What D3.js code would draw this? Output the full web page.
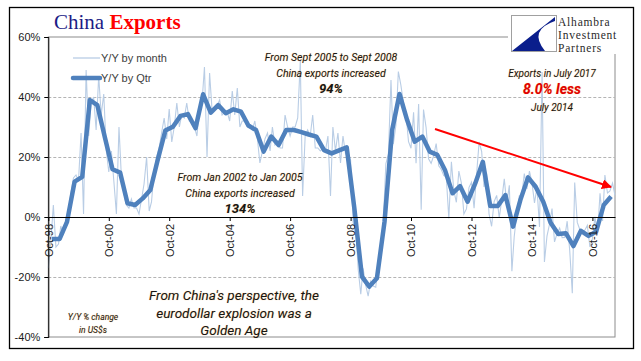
<!DOCTYPE html>
<meta charset="utf-8">
<style>
body { margin: 0; background: #fff; }
svg { font-family: 'Liberation Sans', Arial, sans-serif; }
.axis text { font-family: 'Liberation Sans Narrow', 'Liberation Sans', Arial, sans-serif; font-size: 11px; fill: #1a1a1a; }
.note { font-family: Roboto, 'Open Sans', sans-serif; font-style: italic; fill: #161616; text-anchor: middle;
        text-shadow: 0 0 1px rgba(240, 150, 40, 0.6); }
.legend text { font-size: 11px; fill: #404040; }
</style>
<svg width="641" height="361"></svg>
<script src="https://d3js.org/d3.v7.min.js"></script>
<script>

// Y/Y % change, monthly, starting Oct 1998
var monthStart = new Date(1998, 9, 1);
var monthly = [
  -17, -8, 4,                                            // 1998 Oct-Dec
  -10, -9, -3, -6, -1, 2, 8, 13, 14, 12, 28, 1,          // 1999
  49, 27, 38, 40, 29, 47, 34, 41, 22, 15, 22, 12,        // 2000
  1, 30, 14, 8, 4, 3, 6, 3, 3, 1, 6, 11,                 // 2001
  20, 2, 5, 15, 20, 23, 28, 33, 26, 36, 25, 30,          // 2002
  38, 30, 34, 33, 38, 32, 32, 30, 27, 36, 38, 50,        // 2003
  20, 48, 36, 36, 37, 39, 34, 35, 35, 32, 42, 34,        // 2004
  43, 30, 32, 32, 30, 30, 29, 32, 26, 18, 22, 26,        // 2005
  28, 22, 30, 24, 25, 23, 23, 34, 30, 27, 30, 30,        // 2006
  33, 52, 7, 27, 29, 27, 34, 23, 23, 22, 23, 22,         // 2007
  27, 7, 30, 22, 28, 18, 27, 21, 21, 19, -2, -3,         // 2008
  -17.5, -25.7, -17.1, -22.6, -26.4, -21.4, -23, -23.4, -15.2, -13.8, -1.2, 17.7, // 2009
  21, 45.7, 24.3, 30.5, 48.5, 43.9, 38.1, 34.4, 25.1, 22.9, 34.9, 17.9,           // 2010
  37.7, 2.4, 35.8, 29.9, 19.4, 17.9, 20.4, 24.5, 17.1, 15.9, 13.8, 13.4,          // 2011
  -0.5, 18.4, 8.9, 4.9, 15.3, 11.3, 1, 2.7, 9.9, 11.6, 2.9, 14.1,                 // 2012
  25, 21.8, 10, 14.7, 1, -3.1, 5.1, 7.2, -0.3, 5.6, 12.7, 4.3,                    // 2013
  10.6, -18.1, -6.6, 0.9, 7, 7.2, 14.5, 9.4, 15.3, 11.6, 4.7, 9.7,                // 2014
  -3.3, 48.3, -15, -6.4, -2.5, 2.8, -8.3, -5.5, -3.7, -6.9, -6.8, -1.4,           // 2015
  -11.2, -25.4, 11.5, -1.8, -4.1, -4.8, -4.4, -2.8, -10, -7.3, 0.1, -6.1,         // 2016
  7.9, -1.3, 14, 8, 8.7, 11.3, 7.2                                                // 2017 Jan-Jul
];

// Y/Y % change, quarterly, Q4 1998 .. Q2 2017 (plotted mid quarter)
var quarterStart = new Date(1998, 10, 15);
var quarterly = [
  -7.3,
  -7.3, -1.6, 11.8, 13.4,     // 1999
  39, 37.3, 26.5, 15.9,       // 2000
  14.8, 4.6, 4, 6.2,          // 2001
  9, 19, 28.8, 30.1,          // 2002
  33.7, 34.3, 29.6, 40.9,     // 2003
  34.8, 37.3, 34.6, 35.9,     // 2004
  35.1, 30.5, 29, 21.8,       // 2005
  26.8, 24, 29, 29,           // 2006
  28.3, 27.5, 26.8, 22.3,     // 2007
  21.2, 22.2, 23.2, 3,        // 2008
  -19.9, -23.2, -20.4, -1.6,  // 2009
  29, 41, 32.3, 25.1,         // 2010
  26.8, 21.8, 20.7, 15.7,     // 2011
  7.9, 10.3, 5.1, 11.2,       // 2012
  18.4, 3.7, 3.7, 7.3,        // 2013
  -3.2, 5.7, 13.2, 10.1,      // 2014
  5.1, -1.9, -5.7, -5.4,      // 2015
  -9.7, -4.6, -6.3, -4.9,     // 2016
  4, 6.8                      // 2017
];

var yTicks = [-40, -20, 0, 20, 40, 60];
var gridValues = [-20, 20, 40];
var xTickYears = [1998, 2000, 2002, 2004, 2006, 2008, 2010, 2012, 2014, 2016];

var svg = d3.select("svg");

var x = d3.scaleTime()
  .domain([new Date(1998, 9, 1), new Date(2017, 6, 1)])
  .range([48.3, 615]);
var y = d3.scaleLinear().domain([-40, 60]).range([337, 37]);

// outer frame
svg.append("rect")
  .attr("x", 9.5).attr("y", 7.5).attr("width", 624).attr("height", 341)
  .attr("fill", "#fff").attr("stroke", "#000").attr("stroke-width", 1.3);

// plot border
svg.append("rect")
  .attr("x", x.range()[0]).attr("y", y(60)).attr("width", x.range()[1] - x.range()[0]).attr("height", y(-40) - y(60))
  .attr("fill", "none").attr("stroke", "#8c8c8c").attr("stroke-width", 1);

svg.append("g").selectAll("line")
  .data(gridValues)
  .enter().append("line")
    .attr("x1", x.range()[0]).attr("x2", x.range()[1])
    .attr("y1", function(d) { return y(d) + 0.5; })
    .attr("y2", function(d) { return y(d) + 0.5; })
    .attr("stroke", "#b4b4b4").attr("stroke-dasharray", "3,2");

// monthly line
var monthData = monthly.map(function(v, i) { return { date: d3.timeMonth.offset(monthStart, i), value: v }; });
var quarterData = quarterly.map(function(v, i) { return { date: d3.timeMonth.offset(quarterStart, 3 * i), value: v }; });

var line = d3.line()
  .x(function(d) { return x(d.date); })
  .y(function(d) { return y(d.value); });

svg.append("path")
  .datum(monthData)
  .attr("d", line)
  .attr("fill", "none").attr("stroke", "#b9cde5").attr("stroke-width", 1.1);

svg.append("path")
  .datum(quarterData)
  .attr("d", line)
  .attr("fill", "none").attr("stroke", "#4f81bd").attr("stroke-width", 4.5)
  .attr("stroke-linejoin", "round");

// axes
var yAxis = svg.append("g")
  .attr("class", "axis")
  .attr("transform", "translate(" + x.range()[0] + ",0)")
  .call(d3.axisLeft(y).tickValues(yTicks).tickFormat(function(d) { return d + "%"; }).tickSize(4).tickPadding(4));
yAxis.select(".domain").attr("stroke", "#000");

var xAxis = svg.append("g")
  .attr("class", "axis")
  .attr("transform", "translate(0," + y(0) + ")")
  .call(d3.axisBottom(x)
    .tickValues(xTickYears.map(function(yr) { return new Date(yr, 9, 1); }))
    .tickFormat(d3.timeFormat("%b-%y"))
    .tickSize(4).tickSizeOuter(0));
xAxis.select(".domain").attr("stroke", "#000");
xAxis.selectAll("text")
  .attr("transform", "rotate(-90)")
  .attr("x", -7).attr("y", 0).attr("dy", "0.35em")
  .style("text-anchor", "end");

// title
var title = svg.append("text").attr("x", 54).attr("y", 29)
  .style("font-family", "'Liberation Serif', 'Times New Roman', serif").style("font-size", "21px");
title.append("tspan").attr("fill", "#1b1b86").text("China ");
title.append("tspan").attr("fill", "#ff0000").style("font-weight", "bold").text("Exports");

// legend
var legend = svg.append("g").attr("class", "legend");
legend.append("line").attr("x1", 73).attr("x2", 100).attr("y1", 58).attr("y2", 58)
  .attr("stroke", "#b9cde5").attr("stroke-width", 1.3);
legend.append("text").attr("x", 101).attr("y", 62).text("Y/Y by month");
legend.append("line").attr("x1", 73).attr("x2", 100).attr("y1", 78).attr("y2", 78)
  .attr("stroke", "#4f81bd").attr("stroke-width", 4.5).attr("stroke-linecap", "round");
legend.append("text").attr("x", 101).attr("y", 82).text("Y/Y by Qtr");

// notes
function note(lines, cx, y0, dy, size) {
  var g = svg.append("g");
  lines.forEach(function(l, i) {
    g.append("text").attr("class", "note")
      .attr("x", cx).attr("y", y0 + i * dy)
      .style("font-size", (l.size || size) + "px")
      .style("font-weight", l.bold ? "bold" : null)
      .style("fill", l.color || null)
      .text(l.text);
  });
}
note([{ text: "From Sept 2005 to Sept 2008" }, { text: "China exports increased" }, { text: "94%", bold: true, size: 13 }],
  331, 61, 16, 10.5);
note([{ text: "From Jan 2002 to Jan 2005" }, { text: "China exports increased" }, { text: "134%", bold: true, size: 13 }],
  240, 181, 16, 10.5);
note([{ text: "Exports in July 2017" }, { text: "8.0% less", bold: true, size: 14, color: "#e00000" }, { text: "July 2014" }],
  552, 77, 17, 10);
note([{ text: "From China's perspective, the" }, { text: "eurodollar explosion was a" }, { text: "Golden Age" }],
  234, 300, 17.5, 13.5);
note([{ text: "Y/Y % change" }, { text: "in US$s" }], 93, 320, 12.5, 8.5);

// red arrow
var defs = svg.append("defs");
defs.append("marker").attr("id", "arrow")
  .attr("viewBox", "0 0 10 10").attr("refX", 9).attr("refY", 5)
  .attr("markerWidth", 5).attr("markerHeight", 5).attr("orient", "auto")
  .append("path").attr("d", "M0,0 L10,5 L0,10 Z").attr("fill", "#ff0000");
svg.append("line")
  .attr("x1", 435).attr("y1", 129).attr("x2", 611).attr("y2", 187)
  .attr("stroke", "#ff0000").attr("stroke-width", 2).attr("marker-end", "url(#arrow)");

// logo
var logo = svg.append("g");
logo.append("rect").attr("x", 508).attr("y", 12).attr("width", 124).attr("height", 42).attr("fill", "#fff");
logo.append("rect").attr("x", 511.5).attr("y", 15.5).attr("width", 45).attr("height", 36)
  .attr("fill", "#fff").attr("stroke", "#a0a0a0");
logo.append("path")
  .attr("d", "M555,17 L555,21 Q528,30 545,51 L512,51 Z")
  .attr("fill", "#0a1e8c");
["Alhambra", "Investment", "Partners"].forEach(function(t, i) {
  logo.append("text").attr("x", 558).attr("y", 26 + i * 13)
    .style("font-family", "'Liberation Serif', 'Times New Roman', serif").style("font-size", "11.5px")
    .style("letter-spacing", "0.8px")
    .attr("fill", "#2a2a2a").text(t);
});

</script>
